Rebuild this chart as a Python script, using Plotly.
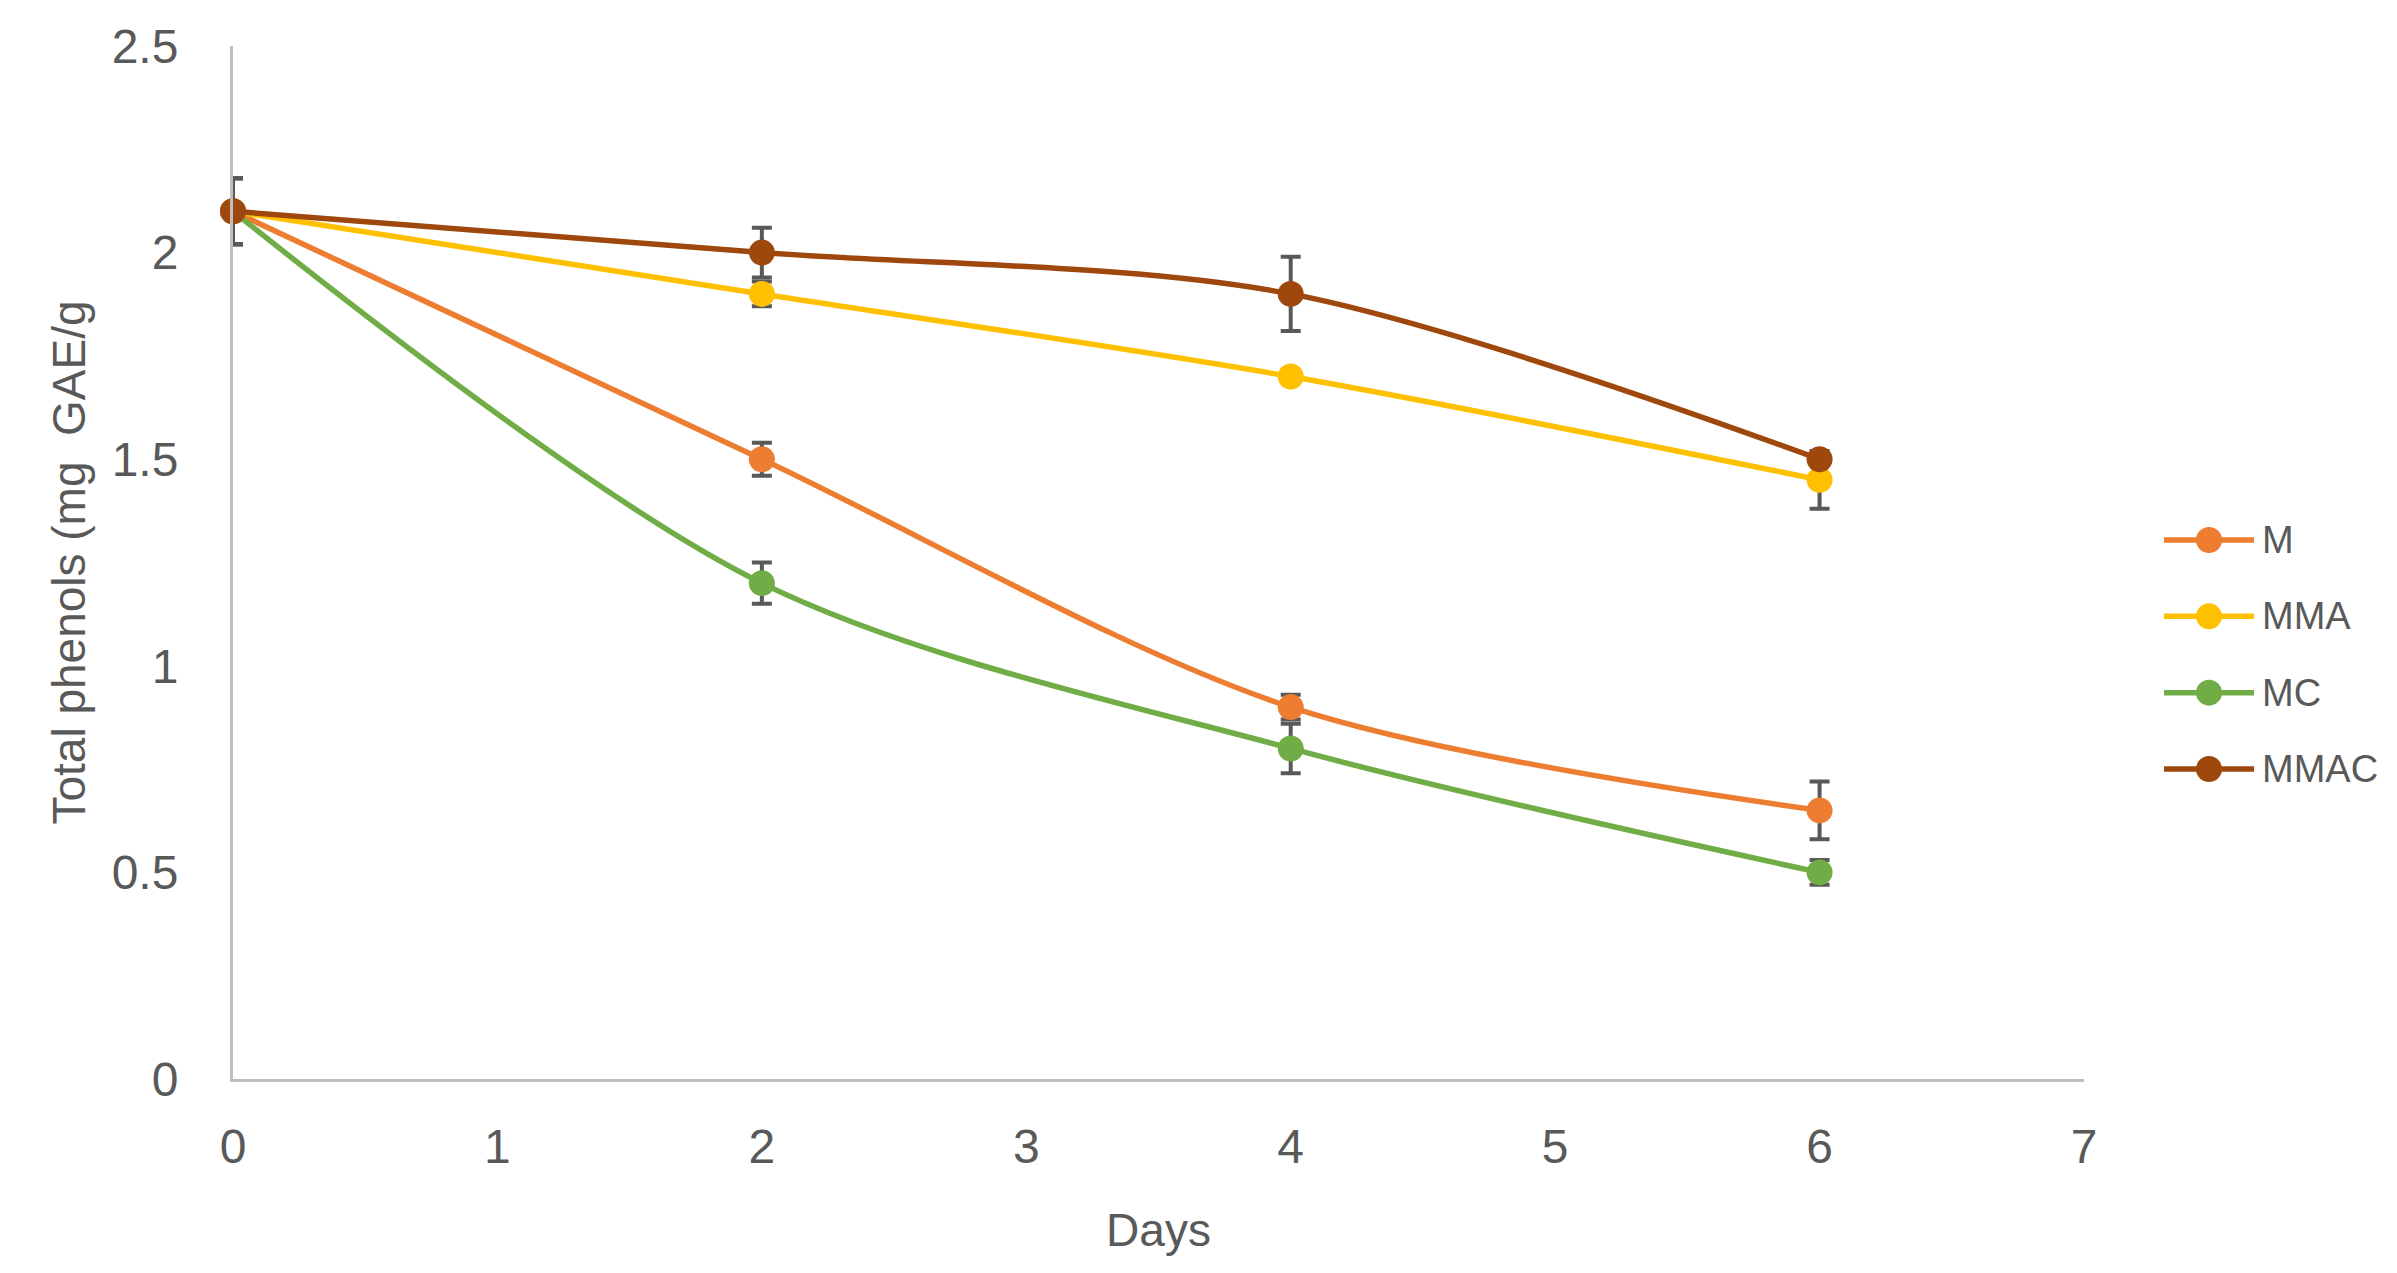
import plotly.graph_objects as go

days = [0, 2, 4, 6]
series_names = ["M", "MMA", "MC", "MMAC"]
m_vals = [2.1, 1.5, 0.9, 0.65]
mma_vals = [2.1, 1.9, 1.7, 1.45]
mc_vals = [2.1, 1.2, 0.8, 0.5]
mmac_vals = [2.1, 2.0, 1.9, 1.5]
m_err = [0.08, 0.04, 0.03, 0.07]
mma_err = [0.08, 0.03, 0.01, 0.07]
mc_err = [0.08, 0.05, 0.06, 0.03]
mmac_err = [0.08, 0.06, 0.09, 0.01]
colors = ["#ED7D31", "#FFC000", "#70AD47", "#9E480E"]
x_ticks = [0, 1, 2, 3, 4, 5, 6, 7]
y_ticks = [0, 0.5, 1, 1.5, 2, 2.5]
y_tick_text = ["0", "0.5", "1", "1.5", "2", "2.5"]

W, H = 2397, 1273
ML, MR, MT, MB = 225, 20, 38, 202
plot_w = W - ML - MR
plot_h = H - MT - MB
main_right = 2076
leg_x0, leg_x1 = 2156, 2246
leg_top, leg_bot = 532, 761

FONT = "Liberation Sans, Arial, sans-serif"
GRAY_TXT = "#595959"

fig = go.Figure()
all_vals = [m_vals, mma_vals, mc_vals, mmac_vals]
all_err = [m_err, mma_err, mc_err, mmac_err]
for name, vals, err, col in zip(series_names, all_vals, all_err, colors):
    fig.add_trace(go.Scatter(
        x=days, y=vals, name=name, mode="lines+markers",
        line=dict(color=col, width=5.5, shape="spline", smoothing=0.9),
        marker=dict(color=col, size=26),
        error_y=dict(type="data", array=err, visible=True, color="#595959",
                     thickness=4, width=10),
        xaxis="x", yaxis="y", showlegend=False, cliponaxis=False,
    ))

# custom legend on an overlay axis
for i, (name, col) in enumerate(zip(series_names, colors)):
    fig.add_trace(go.Scatter(
        x=[0, 1], y=[i, i], mode="lines", line=dict(color=col, width=5.5),
        xaxis="x2", yaxis="y2", showlegend=False, hoverinfo="skip"))
    fig.add_trace(go.Scatter(
        x=[0.5], y=[i], mode="markers", marker=dict(color=col, size=26),
        xaxis="x2", yaxis="y2", showlegend=False, hoverinfo="skip",
        cliponaxis=False))
    fig.add_annotation(x=1, y=i, xref="x2", yref="y2", text=name,
                       showarrow=False, xanchor="left", xshift=6,
                       font=dict(family=FONT, size=38, color=GRAY_TXT))

row_px = (leg_bot - leg_top) / 3
fig.update_layout(
    width=W, height=H,
    margin=dict(l=ML, r=MR, t=MT, b=MB, autoexpand=False),
    paper_bgcolor="white", plot_bgcolor="white",
    font=dict(family=FONT, color=GRAY_TXT),
    xaxis=dict(
        domain=[0, (main_right - ML) / plot_w],
        range=[0, 7], tickvals=x_ticks, showgrid=False, zeroline=False,
        showline=True, linecolor="#BFBFBF", linewidth=3,
        ticks="", ticklabelstandoff=23, automargin=False,
        tickfont=dict(family=FONT, size=48, color=GRAY_TXT),
        title=dict(text="Days", font=dict(family=FONT, size=46, color=GRAY_TXT),
                   standoff=43),
        anchor="y",
    ),
    yaxis=dict(
        range=[0, 2.5], tickvals=y_ticks, ticktext=y_tick_text,
        showgrid=False, zeroline=False,
        showline=True, linecolor="#BFBFBF", linewidth=3,
        ticks="", ticklabelstandoff=42, automargin=False,
        tickfont=dict(family=FONT, size=48, color=GRAY_TXT),
        title=dict(text="Total phenols (mg  GAE/g",
                   font=dict(family=FONT, size=46, color=GRAY_TXT), standoff=12),
        anchor="x",
    ),
    xaxis2=dict(
        domain=[(leg_x0 - ML) / plot_w, (leg_x1 - ML) / plot_w],
        range=[0, 1], visible=False, anchor="y2", fixedrange=True,
    ),
    yaxis2=dict(
        domain=[(H - MB - leg_bot - row_px) / plot_h, (H - MB - leg_top + row_px) / plot_h],
        range=[4, -1], visible=False, anchor="x2", fixedrange=True,
    ),
)

fig.write_html("out.html")
